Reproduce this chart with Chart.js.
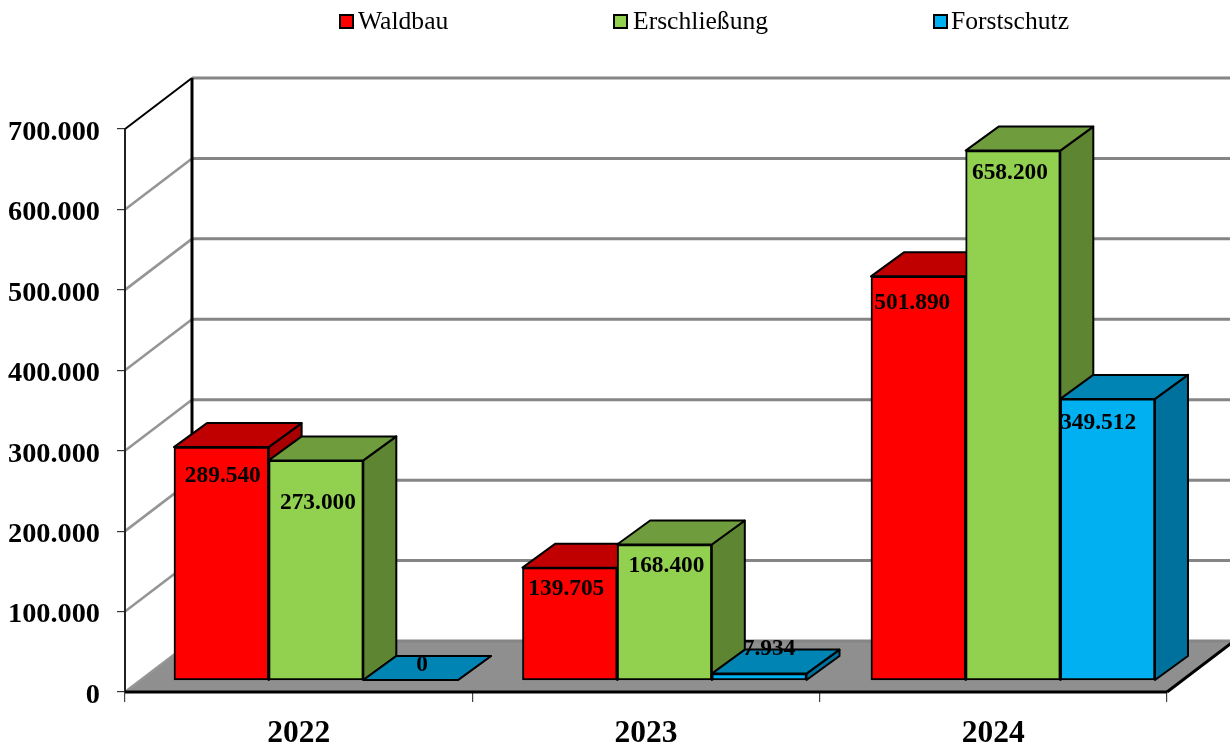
<!DOCTYPE html>
<html>
<head>
<meta charset="utf-8">
<style>html,body{margin:0;padding:0;background:#fff}#w{width:1230px;height:745px}</style>
<script src="https://cdn.jsdelivr.net/npm/chart.js@4"></script>
</head>
<body>
<div id="w"><canvas id="c" width="1230" height="745"></canvas></div>
<script>
const categories = ['2022', '2023', '2024'];
const waldbau = [289540, 139705, 501890];
const erschliessung = [273000, 168400, 658200];
const forstschutz = [0, 7934, 349512];
const yTicks = [0, 100000, 200000, 300000, 400000, 500000, 600000, 700000];

const serif = '"Liberation Serif", "Times New Roman", serif';
const fmt = v => String(v).replace(/\B(?=(\d{3})+$)/g, '.');

// perspective of the pseudo-3D box
const WALL = {dx: 67, dy: -51};
const DEPTH = {dx: 33, dy: -24};
const styles = [
  {front: '#ff0000', top: '#c00000', side: '#a80000'},
  {front: '#92d050', top: '#6f9c3d', side: '#5e8632'},
  {front: '#00b0f0', top: '#0084b4', side: '#00709c'}
];
// label nudges relative to bar centre / bar top
const nudge = [
  [[1.5, 29], [-3.5, 21], [-6, 27]],
  [[2, 43], [2, 21], [-3, 22]],
  [[11.5, -15], [10, -24.6], [-9.5, 24]]
];
const legendSpots = [[340, 358], [614, 633], [934, 951]];

function poly(ctx, pts, fill, stroke, lw) {
  ctx.beginPath();
  pts.forEach((p, i) => i ? ctx.lineTo(p[0], p[1]) : ctx.moveTo(p[0], p[1]));
  ctx.closePath();
  if (fill) { ctx.fillStyle = fill; ctx.fill(); }
  if (stroke) { ctx.strokeStyle = stroke; ctx.lineWidth = lw; ctx.lineJoin = 'round'; ctx.stroke(); }
}
function line(ctx, x1, y1, x2, y2, color, lw) {
  ctx.beginPath(); ctx.moveTo(x1, y1); ctx.lineTo(x2, y2);
  ctx.strokeStyle = color; ctx.lineWidth = lw; ctx.stroke();
}

const box3d = {
  id: 'box3d',
  beforeDraw(chart) {
    // nudge the y tick labels down onto the reference baseline
    const s = chart.scales.y;
    s.getLabelItems().forEach(it => {
      if (!it.options._nudged) { it.options.translation[1] += 3.5; it.options._nudged = true; }
    });
  },
  beforeDatasetsDraw(chart) {
    const ctx = chart.ctx, a = chart.chartArea, y = chart.scales.y;
    ctx.save();
    // floor
    poly(ctx, [[a.left, a.bottom], [a.right, a.bottom], [a.right + WALL.dx, a.bottom + WALL.dy], [a.left + WALL.dx, a.bottom + WALL.dy]], '#8f8f8f');
    // gridlines on both walls
    yTicks.forEach((t, i) => {
      const py = y.getPixelForValue(t);
      const top = i === yTicks.length - 1;
      line(ctx, a.left, py, a.left + WALL.dx, py + WALL.dy, top ? '#000' : '#959595', top ? 2 : 2.6);
      line(ctx, a.left + WALL.dx, py + WALL.dy, a.right + WALL.dx, py + WALL.dy, '#858585', 3);
    });
    // back corner of the walls
    line(ctx, a.left + WALL.dx, a.top + WALL.dy, a.left + WALL.dx, a.bottom + WALL.dy, '#000', 3);
    line(ctx, a.left, a.top, a.left, a.bottom, '#222', 2);
    // front floor edge
    line(ctx, a.left, a.bottom, a.right, a.bottom, '#000', 3);
    line(ctx, a.right, a.bottom, a.right + WALL.dx, a.bottom + WALL.dy, '#000', 3);
    // bar tops and sides (fronts are drawn by the library)
    chart.data.datasets.forEach((ds, d) => {
      chart.getDatasetMeta(d).data.forEach(bar => {
        const w = bar.width / 2, L = bar.x - w, R = bar.x + w, T = bar.y, B = bar.base, s = styles[d];
        poly(ctx, [[R, T], [R + DEPTH.dx, T + DEPTH.dy], [R + DEPTH.dx, B + DEPTH.dy], [R, B]], s.side, '#000', 2);
        poly(ctx, [[L, T], [R, T], [R + DEPTH.dx, T + DEPTH.dy], [L + DEPTH.dx, T + DEPTH.dy]], s.top, '#000', 2);
      });
    });
    ctx.restore();
  },
  afterDatasetsDraw(chart) {
    const ctx = chart.ctx;
    ctx.save();
    ctx.font = 'bold 23.4px ' + serif;
    ctx.fillStyle = '#000';
    ctx.textAlign = 'center';
    ctx.textBaseline = 'middle';
    chart.data.datasets.forEach((ds, d) => {
      chart.getDatasetMeta(d).data.forEach((bar, i) => {
        ctx.fillText(fmt(ds.data[i].y), bar.x + nudge[d][i][0], bar.y + nudge[d][i][1]);
      });
    });
    // legend
    ctx.font = '25.6px ' + serif;
    ctx.textAlign = 'left';
    chart.data.datasets.forEach((ds, d) => {
      const sp = legendSpots[d];
      ctx.fillStyle = styles[d].front;
      ctx.strokeStyle = '#000';
      ctx.lineWidth = 2;
      ctx.fillRect(sp[0], 15, 13, 13);
      ctx.strokeRect(sp[0], 15, 13, 13);
      ctx.fillStyle = '#000';
      ctx.fillText(ds.label, sp[1], 22);
    });
    ctx.restore();
  }
};

const names = ['Waldbau', 'Erschließung', 'Forstschutz'];
const series = [waldbau, erschliessung, forstschutz];

new Chart(document.getElementById('c'), {
  type: 'bar',
  data: {
    labels: categories,
    datasets: series.map((vals, d) => ({
      label: names[d],
      data: vals.map((v, i) => ({x: i, y: v})),
      xAxisID: 'xBars',
      yAxisID: 'yBars',
      backgroundColor: styles[d].front,
      borderColor: '#000',
      borderWidth: 2,
      borderSkipped: false,
      barThickness: 94.67,
      clip: false
    }))
  },
  options: {
    responsive: false,
    animation: false,
    layout: {padding: {top: 129, right: 63, left: 0, bottom: 0}},
    plugins: {legend: {display: false}, title: {display: false}, tooltip: {enabled: false}},
    scales: {
      x: {
        type: 'category',
        labels: categories,
        position: 'bottom',
        afterFit(s) { s.height = 53; },
        border: {display: false},
        grid: {drawOnChartArea: false, drawTicks: true, tickLength: 10, color: '#444', lineWidth: 1.2, offset: true},
        ticks: {color: '#000', font: {family: serif, weight: 'bold', size: 31.5}, padding: 13, maxRotation: 0, autoSkip: false}
      },
      y: {
        type: 'linear',
        position: 'left',
        min: 0,
        max: 700000,
        afterFit(s) { s.width = 125; },
        afterBuildTicks(s) { s.ticks = yTicks.map(v => ({value: v})); },
        border: {display: false},
        grid: {drawOnChartArea: false, drawTicks: true, tickLength: 8, color: '#333', lineWidth: 1.2},
        ticks: {color: '#000', font: {family: serif, weight: 'bold', size: 28.3}, padding: 17, callback: v => fmt(v)}
      },
      xBars: {type: 'linear', display: false, offset: false, grid: {offset: false}, min: -0.548, max: 2.442},
      yBars: {type: 'linear', display: false, min: -14925, max: 685075}
    }
  },
  plugins: [box3d]
});
</script>
</body>
</html>
